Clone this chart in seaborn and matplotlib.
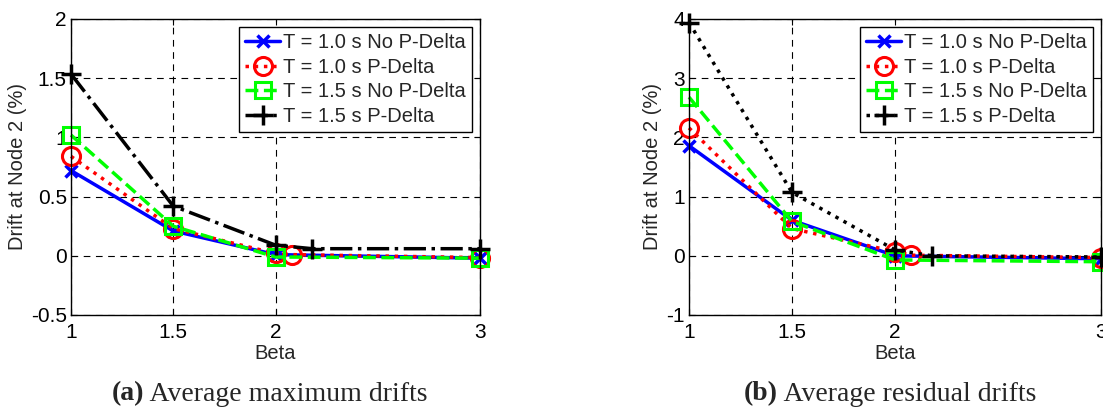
import matplotlib
matplotlib.use("Agg")
import matplotlib.pyplot as plt
import seaborn as sns
import pandas as pd
from matplotlib.offsetbox import TextArea, HPacker, AnchoredOffsetbox

sns.set_theme(style="white")
plt.rcParams['font.family'] = ['Liberation Sans', 'DejaVu Sans']

# ---- data ----
beta_std = [1, 1.5, 2, 3]
beta_red = [1, 1.5, 2, 2.08, 3]
beta_blk = [1, 1.5, 2, 2.18, 3]

labels = ["T = 1.0 s No P-Delta", "T = 1.0 s P-Delta",
          "T = 1.5 s No P-Delta", "T = 1.5 s P-Delta"]

# (a) Average maximum drifts
max_t10_nopd = [0.72, 0.21, 0.01, -0.02]
max_t10_pd = [0.84, 0.23, 0.02, 0.01, -0.015]
max_t15_nopd = [1.02, 0.25, -0.01, -0.02]
max_t15_pd = [1.535, 0.42, 0.09, 0.06, 0.06]

# (b) Average residual drifts
res_t10_nopd = [1.86, 0.60, 0.00, -0.05]
res_t10_pd = [2.16, 0.46, 0.07, 0.01, -0.03]
res_t15_nopd = [2.68, 0.58, -0.07, -0.10]
res_t15_pd = [3.94, 1.07, 0.10, 0.00, -0.02]

yticks_a = [-0.5, 0, 0.5, 1, 1.5, 2]
yticks_b = [-1, 0, 1, 2, 3, 4]
xticks = [1, 1.5, 2, 3]
xticklabels = ["1", "1.5", "2", "3"]

fig = plt.figure(figsize=(11.03, 4.13), dpi=100)
W, H = 1103, 413
ax1 = fig.add_axes([71 / W, 1 - 315 / H, (480 - 71) / W, (315 - 19) / H])
ax2 = fig.add_axes([689 / W, 1 - 315 / H, (1101 - 689) / W, (315 - 19) / H])

styles = [
    dict(color="#0000ff", linestyle="-", marker="x", markersize=9, markeredgewidth=2.5),
    dict(color="#ff0000", linestyle=":", marker="o", markersize=13, markeredgewidth=2.2,
         markerfacecolor="none"),
    dict(color="#00ff00", linestyle="--", marker="s", markersize=12, markeredgewidth=2.2,
         markerfacecolor="none"),
    dict(color="#000000", linestyle="-.", marker="+", markersize=15, markeredgewidth=2.5),
]


def draw(ax, series, black_ls, yticks, ylim):
    xs = [beta_std, beta_red, beta_std, beta_blk]
    for i, (x, y) in enumerate(zip(xs, series)):
        st = dict(styles[i])
        if i == 3:
            st["linestyle"] = black_ls
        st["markeredgecolor"] = st["color"]
        df = pd.DataFrame({"Beta": x, "Drift": y})
        sns.lineplot(data=df, x="Beta", y="Drift", ax=ax, sort=False, estimator=None,
                     linewidth=2.5, label=labels[i], clip_on=False, **st)
    ax.set_xlim(1, 3)
    ax.set_ylim(*ylim)
    ax.set_xticks(xticks)
    ax.set_xticklabels(xticklabels)
    ax.set_yticks(yticks)
    ax.set_yticklabels([f"{v:g}" for v in yticks])
    ax.grid(True, color="black", linestyle=(0, (6, 5)), linewidth=0.8)
    ax.set_axisbelow(True)
    for s in ax.spines.values():
        s.set_color("black")
        s.set_linewidth(1.0)
    ax.tick_params(direction="in", length=4, width=0.8, colors="black",
                   labelsize=15, top=True, right=True, bottom=True, left=True)
    ax.tick_params(axis="x", pad=6)
    ax.tick_params(axis="y", pad=3)
    ax.set_xlabel("Beta", fontsize=14.5, labelpad=1)
    ax.set_ylabel("Drift at Node 2 (%)", fontsize=14.5, labelpad=3)
    leg = ax.legend(loc="upper right", fontsize=14.5, frameon=True, fancybox=False,
                    handlelength=1.75, handletextpad=0.15, borderpad=0.3,
                    labelspacing=0.28, borderaxespad=0.4, framealpha=1)
    leg.get_frame().set_edgecolor("black")
    leg.get_frame().set_linewidth(1.0)


draw(ax1, [max_t10_nopd, max_t10_pd, max_t15_nopd, max_t15_pd], "-.", yticks_a, (-0.5, 2))
draw(ax2, [res_t10_nopd, res_t10_pd, res_t15_nopd, res_t15_pd], ":", yticks_b, (-1, 4))

serif = ['Liberation Serif', 'DejaVu Serif']
for cx, bold, rest in [(270 / W, "(a)", " Average maximum drifts"),
                       (890 / W, "(b)", " Average residual drifts")]:
    ta = TextArea(bold, textprops=dict(fontsize=20, fontweight="bold", family=serif))
    tb = TextArea(rest, textprops=dict(fontsize=20, family=serif))
    box = HPacker(children=[ta, tb], align="baseline", pad=0, sep=0)
    ab = AnchoredOffsetbox(loc="center", child=box, frameon=False,
                           bbox_to_anchor=(cx, 1 - 394 / H),
                           bbox_transform=fig.transFigure, borderpad=0, pad=0)
    fig.add_artist(ab)

fig.savefig("out.png", dpi=100)
